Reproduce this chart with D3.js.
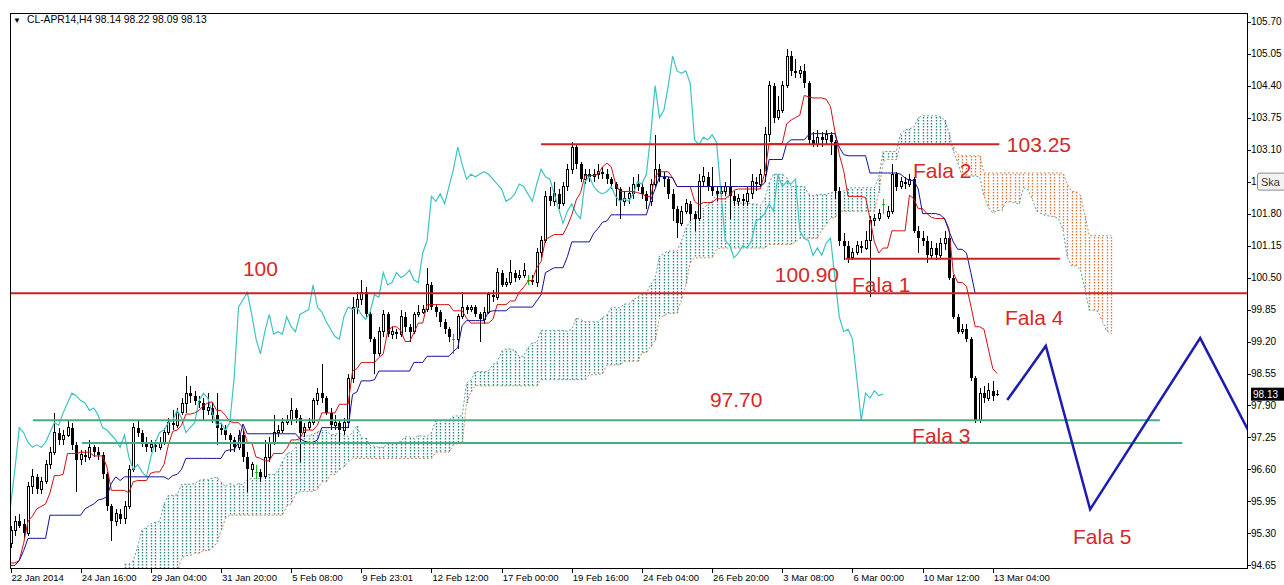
<!DOCTYPE html>
<meta charset="utf-8">
<style>
    body { margin: 0; background: #fff; }
    svg { display: block; }
    .axis text { font: 10px 'Liberation Sans', Arial, sans-serif; fill: #000; }
    .note { font: 21px 'Liberation Sans', Arial, sans-serif; fill: #d62828; }
</style>
<svg width="1284" height="585"></svg>
<script src="https://d3js.org/d3.v7.min.js"></script>
<script>

// H4 candles, bar 0 = 22 Jan 2014 00:00
var opens = [
    95.10, 95.35, 95.55, 95.50, 95.30, 96.25, 96.45, 96.20, 96.35, 96.70,
    96.95, 97.35, 97.20, 97.30, 97.45, 97.10, 96.80, 96.90, 96.85, 97.05,
    96.95, 96.90, 96.50, 95.85, 95.55, 95.70, 95.60, 95.85, 96.60, 97.45,
    97.35, 97.15, 97.05, 97.10, 97.05, 97.15, 97.35, 97.55, 97.50, 97.75,
    97.95, 98.15, 98.10, 98.00, 97.95, 97.80, 97.85, 97.70, 97.45, 97.40,
    97.30, 97.20, 97.05, 97.30, 96.85, 96.60, 96.55, 96.55, 96.45, 96.85,
    97.15, 97.35, 97.40, 97.55, 97.60, 97.80, 97.65, 97.35, 97.45, 97.55,
    98.00, 98.15, 98.05, 97.75, 97.50, 97.55, 97.40, 97.55, 98.45, 99.90,
    100.05, 100.20, 99.75, 99.25, 98.95, 99.40, 99.75, 99.35, 99.40, 99.35,
    99.70, 99.50, 99.40, 99.75, 99.80, 99.85, 100.35, 99.90, 99.80, 99.60,
    99.45, 99.25, 99.25, 99.70, 99.90, 99.85, 99.90, 99.75, 99.65, 99.80,
    100.15, 100.10, 100.60, 100.35, 100.40, 100.60, 100.50, 100.55, 100.45, 100.45,
    100.40, 101.00, 101.25, 102.15, 102.05, 102.20, 102.00, 102.35, 102.70, 103.15,
    102.80, 102.50, 102.60, 102.55, 102.60, 102.65, 102.60, 102.50, 102.40, 102.30,
    102.05, 102.10, 102.20, 102.40, 102.35, 102.20, 102.05, 102.40, 102.70, 102.55,
    102.50, 102.20, 101.90, 101.60, 101.85, 102.00, 101.80, 101.70, 102.45, 102.55,
    102.35, 102.25, 102.20, 102.25, 102.35, 102.15, 102.05, 102.10, 102.05, 102.20,
    102.45, 102.40, 102.60, 103.40, 104.40, 103.75, 103.90, 104.40, 105.00, 104.70,
    104.65, 104.70, 104.45, 103.30, 103.20, 103.35, 103.30, 103.40, 103.25, 102.25,
    101.25, 101.15, 100.90, 101.00, 101.15, 101.10, 101.25, 101.65, 101.70, 102.00,
    101.75, 101.85, 102.60, 102.35, 102.45, 102.40, 102.50, 101.45, 101.30, 101.25,
    100.95, 101.10, 100.95, 101.20, 101.30, 100.50, 99.70, 99.40, 99.45, 99.25,
    98.45, 97.60, 98.15, 98.05, 98.20, 98.14
];
var highs = [
    95.45, 95.65, 95.70, 95.60, 96.35, 96.60, 96.50, 96.45, 96.80, 97.05,
    97.75, 97.45, 97.40, 97.60, 97.55, 97.15, 97.00, 97.00, 97.20, 97.10,
    97.05, 96.95, 96.55, 95.90, 95.80, 95.80, 95.95, 96.70, 97.55, 97.60,
    97.40, 97.25, 97.20, 97.20, 97.25, 97.45, 97.65, 97.80, 97.85, 98.05,
    98.50, 98.30, 98.20, 98.10, 98.05, 98.15, 97.95, 98.15, 97.55, 97.50,
    97.35, 97.25, 97.40, 97.40, 96.95, 96.75, 96.70, 96.60, 97.20, 97.25,
    97.70, 97.50, 97.65, 97.70, 98.05, 97.85, 97.70, 97.55, 97.65, 98.05,
    98.25, 98.75, 98.10, 97.85, 97.70, 97.60, 97.65, 98.55, 100.10, 100.20,
    100.45, 100.30, 99.80, 99.30, 99.50, 99.85, 99.80, 99.50, 99.45, 99.85,
    99.80, 99.55, 99.80, 99.95, 99.95, 100.70, 100.40, 99.95, 99.85, 99.65,
    99.50, 99.35, 99.75, 100.20, 99.95, 99.95, 99.95, 99.80, 99.90, 100.20,
    100.25, 100.70, 100.65, 100.50, 100.85, 100.65, 100.65, 100.80, 100.55, 100.55,
    101.10, 101.35, 102.25, 102.35, 102.45, 102.30, 102.45, 102.80, 103.25, 103.20,
    102.85, 102.70, 102.70, 102.70, 102.80, 102.75, 102.70, 102.55, 102.45, 102.35,
    102.25, 102.35, 102.55, 102.60, 102.45, 102.25, 102.50, 103.40, 102.80, 102.65,
    102.55, 102.30, 101.95, 101.95, 102.10, 102.05, 101.85, 102.60, 102.75, 102.65,
    102.75, 102.35, 102.35, 102.45, 102.90, 102.25, 102.20, 102.20, 102.35, 102.60,
    102.55, 102.70, 103.55, 104.50, 104.45, 104.20, 104.50, 105.15, 105.10, 104.95,
    104.80, 104.85, 104.50, 103.45, 103.50, 103.45, 103.50, 103.45, 103.30, 102.35,
    101.40, 101.25, 101.10, 101.25, 101.25, 101.45, 101.75, 101.80, 101.90, 102.10,
    101.95, 102.80, 102.65, 102.55, 102.55, 102.60, 102.55, 101.55, 101.45, 101.35,
    101.25, 101.20, 101.30, 101.45, 101.35, 100.55, 99.75, 99.55, 99.55, 99.30,
    98.50, 98.25, 98.30, 98.35, 98.40, 98.22
];
var lows = [
    95.00, 95.25, 95.40, 95.20, 95.25, 96.10, 96.10, 96.10, 96.30, 96.60,
    96.90, 97.10, 97.10, 97.25, 97.00, 96.15, 96.70, 96.75, 96.80, 96.85,
    96.80, 96.40, 95.75, 95.15, 95.45, 95.50, 95.50, 95.80, 96.55, 97.25,
    97.05, 96.95, 96.95, 96.95, 97.00, 97.10, 97.30, 97.40, 97.45, 97.70,
    97.75, 97.95, 97.90, 97.85, 97.60, 97.70, 97.55, 97.10, 97.30, 97.20,
    96.95, 96.95, 97.00, 96.75, 96.15, 96.45, 96.40, 96.35, 96.40, 96.75,
    97.10, 97.25, 97.35, 97.50, 97.50, 97.55, 96.75, 97.25, 97.40, 97.50,
    97.90, 97.95, 97.70, 97.40, 97.40, 97.10, 97.30, 97.45, 98.35, 99.75,
    99.95, 99.70, 99.20, 98.55, 98.90, 99.30, 99.30, 99.25, 99.25, 99.30,
    99.40, 99.20, 99.35, 99.70, 99.75, 99.80, 99.85, 99.70, 99.50, 99.35,
    99.20, 98.95, 99.05, 99.65, 99.75, 99.80, 99.70, 99.20, 99.55, 99.75,
    100.00, 100.05, 100.30, 100.30, 100.35, 100.40, 100.45, 100.50, 100.35, 100.35,
    100.30, 100.90, 101.20, 101.95, 101.95, 101.90, 101.95, 102.25, 102.60, 102.70,
    102.45, 102.40, 102.45, 102.45, 102.50, 102.50, 102.40, 102.30, 101.95, 101.70,
    101.95, 102.00, 102.10, 102.25, 102.10, 101.90, 101.95, 102.35, 102.45, 102.35,
    102.10, 101.65, 101.30, 101.55, 101.80, 101.65, 101.45, 101.65, 102.35, 102.25,
    102.15, 102.05, 102.10, 102.15, 101.70, 101.95, 101.95, 101.95, 101.95, 102.10,
    102.25, 102.35, 102.45, 103.25, 103.65, 103.70, 103.85, 104.35, 104.60, 104.55,
    104.55, 104.35, 103.20, 103.15, 103.15, 103.15, 103.20, 103.00, 102.10, 101.15,
    100.85, 100.80, 100.85, 100.95, 101.00, 101.05, 100.10, 101.55, 101.65, 101.80,
    101.70, 101.80, 102.25, 102.30, 102.30, 102.35, 101.40, 101.00, 101.15, 100.80,
    100.90, 100.85, 100.90, 101.05, 100.45, 99.65, 99.35, 99.35, 99.20, 98.40,
    97.55, 97.55, 97.95, 98.00, 98.00, 98.09
];
var closes = [
    95.35, 95.55, 95.45, 95.30, 96.25, 96.45, 96.20, 96.35, 96.70, 96.95,
    97.35, 97.20, 97.30, 97.45, 97.10, 96.80, 96.90, 96.85, 97.05, 96.95,
    96.90, 96.50, 95.85, 95.55, 95.70, 95.60, 95.85, 96.60, 97.45, 97.35,
    97.15, 97.05, 97.10, 97.05, 97.15, 97.35, 97.55, 97.50, 97.75, 97.95,
    98.15, 98.10, 98.00, 97.95, 97.80, 97.85, 97.70, 97.45, 97.40, 97.30,
    97.20, 97.05, 97.30, 96.85, 96.60, 96.70, 96.55, 96.45, 96.85, 97.15,
    97.35, 97.40, 97.55, 97.60, 97.80, 97.65, 97.35, 97.45, 97.55, 98.00,
    98.15, 98.05, 97.75, 97.50, 97.55, 97.40, 97.55, 98.45, 99.90, 100.05,
    100.20, 99.75, 99.25, 98.95, 99.40, 99.75, 99.35, 99.40, 99.35, 99.70,
    99.50, 99.40, 99.75, 99.80, 99.85, 100.35, 99.90, 99.80, 99.60, 99.45,
    99.30, 99.25, 99.70, 99.90, 99.85, 99.90, 99.75, 99.65, 99.80, 100.15,
    100.10, 100.60, 100.35, 100.40, 100.60, 100.50, 100.55, 100.65, 100.45, 100.40,
    101.00, 101.25, 102.15, 102.05, 102.20, 102.00, 102.35, 102.70, 103.15, 102.80,
    102.50, 102.60, 102.55, 102.60, 102.65, 102.60, 102.50, 102.40, 102.30, 102.05,
    102.10, 102.20, 102.40, 102.35, 102.20, 102.05, 102.40, 102.70, 102.55, 102.50,
    102.20, 101.90, 101.60, 101.85, 102.00, 101.80, 101.70, 102.45, 102.55, 102.35,
    102.25, 102.20, 102.25, 102.35, 102.15, 102.05, 102.10, 102.05, 102.20, 102.45,
    102.40, 102.60, 103.40, 104.40, 103.75, 103.90, 104.40, 105.00, 104.70, 104.65,
    104.70, 104.45, 103.30, 103.20, 103.35, 103.30, 103.40, 103.25, 102.25, 101.25,
    101.15, 100.90, 101.00, 101.15, 101.10, 101.25, 101.65, 101.70, 101.80, 102.00,
    101.85, 102.60, 102.35, 102.45, 102.40, 102.50, 101.45, 101.30, 101.25, 100.95,
    101.10, 100.95, 101.20, 101.30, 100.50, 99.70, 99.40, 99.45, 99.25, 98.45,
    97.60, 98.15, 98.05, 98.20, 98.10, 98.13
];

var tenkanEarly = [94.70, 94.70, 94.75, 95.10, 95.55, 95.65, 95.80, 95.85];
var kijunEarly = [
    94.65, 94.65, 94.75, 94.95, 95.20, 95.20, 95.20, 95.20, 95.20, 95.67,
    95.67, 95.67, 95.67, 95.67, 95.67, 95.67, 95.67, 95.80, 95.85, 95.90,
    95.98, 96.00, 96.05, 96.32, 96.45
];
// Senkou B for bars 26..76
var spanBEarly = [
    94.30, 94.30, 94.35, 94.40, 94.45,
    94.50, 94.50, 94.50, 94.50, 94.50, 94.50, 94.50, 94.50,
    94.80, 94.85, 94.85, 94.90, 94.90, 94.95, 94.95, 95.00,
    95.10, 95.35, 95.60,
    95.67, 95.67, 95.67, 95.67, 95.67, 95.67, 95.67, 95.67, 95.67, 95.67, 95.67, 95.67, 95.67,
    95.85, 95.90, 96.10, 96.15, 96.15, 96.15, 96.15, 96.20,
    96.35, 96.35, 96.50, 96.50, 96.60, 96.65
];

var priceTicks = ["94.65", "95.30", "95.95", "96.60", "97.25", "97.90", "98.55", "99.20", "99.85",
    "100.50", "101.15", "101.80", "102.45", "103.10", "103.75", "104.40", "105.05", "105.70"];
var timeTickBars = [0, 16, 32, 48, 64, 80, 96, 112, 128, 144, 160, 176, 192, 208, 224];
var timeLabels = ["22 Jan 2014", "24 Jan 16:00", "29 Jan 04:00", "31 Jan 20:00", "5 Feb 08:00",
    "9 Feb 23:01", "12 Feb 12:00", "17 Feb 00:00", "19 Feb 16:00", "24 Feb 04:00",
    "26 Feb 20:00", "3 Mar 08:00", "6 Mar 00:00", "10 Mar 12:00", "13 Mar 04:00"];
// tick label partly hidden by a tooltip in the screenshot
var hiddenTick = "102.45", tooltipText = "Ska";

// drawn objects: [from bar, to bar, price]
var redLevels = [[0, 282, 100.18], [121, 225.5, 103.21], [190.4, 239.3, 100.88]];
var greenLevels = [[5.1, 262.1, 97.60], [16.3, 267.2, 97.14]];
var wave = [[227.3, 98.01], [236.1, 99.11], [246.2, 95.79], [271.3, 99.27], [290, 96.07]];
var notes = [
    [53.0, 100.53, "100"], [227.2, 103.05, "103.25"], [174.3, 100.41, "100.90"],
    [191.9, 100.21, "Fala 1"], [205.8, 102.52, "Fala 2"], [226.8, 99.54, "Fala 4"],
    [159.5, 97.87, "97.70"], [205.6, 97.14, "Fala 3"], [242.3, 95.08, "Fala 5"]
];

var svg = d3.select("svg"),
    frame = {left: 10, top: 13, right: 1247, bottom: 568};

var x = d3.scaleLinear().domain([0, 282]).range([10.5, 1247.1]);
var y = d3.scaleLinear().domain([94.65, 105.70]).range([565.4, 21.7]);

svg.append("defs").append("clipPath").attr("id", "plot")
    .append("rect")
    .attr("x", frame.left).attr("y", frame.top)
    .attr("width", frame.right - frame.left).attr("height", frame.bottom - frame.top);

// ichimoku
function mid(from, to) {
    var hi = d3.max(highs.slice(from, to + 1)), lo = d3.min(lows.slice(from, to + 1));
    return (hi + lo) / 2;
}
var n = closes.length;
var tenkan = closes.map(function(c, i) { return i < tenkanEarly.length ? tenkanEarly[i] : mid(i - 8, i); });
var kijun = closes.map(function(c, i) { return i < kijunEarly.length ? kijunEarly[i] : mid(i - 25, i); });
var cloud = [];
for (var i = 26; i < n + 26; i++) {
    var a = (tenkan[i - 26] + kijun[i - 26]) / 2;
    var b = i - 26 >= 51 ? mid(i - 77, i - 26) : spanBEarly[i - 26];
    cloud.push({i: i, a: a, b: b});
}
var chikou = closes.slice(26).map(function(c, i) { return {i: i, v: c}; });

var g = svg.append("g").attr("clip-path", "url(#plot)");

var teal = "#2f8585", orange = "#e0783a";

g.append("g").selectAll("line")
    .data(cloud)
    .enter().append("line")
    .attr("x1", function(d) { return Math.round(x(d.i)) + 0.5; })
    .attr("x2", function(d) { return Math.round(x(d.i)) + 0.5; })
    .attr("y1", function(d) { return y(Math.max(d.a, d.b)); })
    .attr("y2", function(d) { return y(Math.min(d.a, d.b)); })
    .attr("stroke", function(d) { return d.a >= d.b ? teal : orange; })
    .attr("stroke-width", 1.4)
    .attr("stroke-dasharray", "1.4,1.6")
    .attr("stroke-dashoffset", function(d) { return y(Math.max(d.a, d.b)) % 3; });

var line = d3.line().x(function(d) { return x(d.i); }).y(function(d) { return y(d.v); });

g.append("path")
    .attr("d", line(cloud.map(function(d) { return {i: d.i, v: d.a}; })))
    .attr("fill", "none").attr("stroke", "#5d9d9d").attr("stroke-dasharray", "2,2");
g.append("path")
    .attr("d", line(cloud.map(function(d) { return {i: d.i, v: d.b}; })))
    .attr("fill", "none").attr("stroke", "#c98a5c").attr("stroke-dasharray", "2,2");

// candles
var bars = closes.map(function(c, i) { return {i: i, o: opens[i], h: highs[i], l: lows[i], c: c}; });
var cg = g.append("g").attr("shape-rendering", "crispEdges");
cg.selectAll(".wick")
    .data(bars)
    .enter().append("line")
    .attr("x1", function(d) { return Math.round(x(d.i)) + 0.5; })
    .attr("x2", function(d) { return Math.round(x(d.i)) + 0.5; })
    .attr("y1", function(d) { return y(d.h); })
    .attr("y2", function(d) { return y(d.l); })
    .attr("stroke", function(d) { return d.o === d.c ? "#10c010" : "#000"; });

cg.selectAll(".body")
    .data(bars.filter(function(d) { return d.o !== d.c; }))
    .enter().append("rect")
    .attr("x", function(d) { return Math.round(x(d.i)) - 1 + (d.c > d.o ? 0.5 : 0); })
    .attr("y", function(d) { return y(Math.max(d.o, d.c)); })
    .attr("width", function(d) { return d.c > d.o ? 2 : 3; })
    .attr("height", function(d) { return Math.max(1, y(Math.min(d.o, d.c)) - y(Math.max(d.o, d.c))); })
    .attr("fill", function(d) { return d.c > d.o ? "#fff" : "#000"; })
    .attr("stroke", function(d) { return d.c > d.o ? "#000" : "none"; });

cg.selectAll(".doji")
    .data(bars.filter(function(d) { return d.o === d.c; }))
    .enter().append("line")
    .attr("x1", function(d) { return Math.round(x(d.i)) - 1; })
    .attr("x2", function(d) { return Math.round(x(d.i)) + 2; })
    .attr("y1", function(d) { return Math.round(y(d.c)) + 0.5; })
    .attr("y2", function(d) { return Math.round(y(d.c)) + 0.5; })
    .attr("stroke", "#10c010");

// indicator lines
g.append("path").attr("d", line(chikou))
    .attr("fill", "none").attr("stroke", "#3cc4c4").attr("stroke-width", 1.2);
g.append("path").attr("d", line(tenkan.map(function(v, i) { return {i: i, v: v}; })))
    .attr("fill", "none").attr("stroke", "#d01010").attr("stroke-width", 1);
g.append("path").attr("d", line(kijun.map(function(v, i) { return {i: i, v: v}; })))
    .attr("fill", "none").attr("stroke", "#1010a0").attr("stroke-width", 1);

// drawn levels
g.selectAll(".lvl-red")
    .data(redLevels)
    .enter().append("line")
    .attr("x1", function(d) { return x(d[0]); })
    .attr("x2", function(d) { return x(d[1]); })
    .attr("y1", function(d) { return y(d[2]); })
    .attr("y2", function(d) { return y(d[2]); })
    .attr("stroke", "#cc2222").attr("stroke-width", 2);
g.selectAll(".lvl-green")
    .data(greenLevels)
    .enter().append("line")
    .attr("x1", function(d) { return x(d[0]); })
    .attr("x2", function(d) { return x(d[1]); })
    .attr("y1", function(d) { return y(d[2]); })
    .attr("y2", function(d) { return y(d[2]); })
    .attr("stroke", "#4aab80").attr("stroke-width", 2);

g.append("path")
    .attr("d", d3.line().x(function(d) { return x(d[0]); }).y(function(d) { return y(d[1]); })(wave))
    .attr("fill", "none").attr("stroke", "#1c1cb0").attr("stroke-width", 2.5);

g.selectAll(".note")
    .data(notes)
    .enter().append("text")
    .attr("class", "note")
    .attr("x", function(d) { return x(d[0]); })
    .attr("y", function(d) { return y(d[1]); })
    .text(function(d) { return d[2]; });

// frame
svg.append("rect")
    .attr("x", frame.left + 0.5).attr("y", frame.top + 0.5)
    .attr("width", frame.right - frame.left).attr("height", frame.bottom - frame.top)
    .attr("fill", "none").attr("stroke", "#000").attr("shape-rendering", "crispEdges");

// price axis
var pa = svg.append("g").attr("class", "axis");
pa.selectAll("line")
    .data(priceTicks)
    .enter().append("line")
    .attr("x1", frame.right).attr("x2", frame.right + 4)
    .attr("y1", function(d) { return Math.round(y(+d)) + 0.5; })
    .attr("y2", function(d) { return Math.round(y(+d)) + 0.5; })
    .attr("stroke", "#000");
pa.selectAll("text")
    .data(priceTicks)
    .enter().append("text")
    .attr("x", frame.right + 4)
    .attr("y", function(d) { return y(+d); })
    .attr("dy", "0.35em")
    // only the first digit of this label shows beside the tooltip
    .text(function(d) { return d === hiddenTick ? d.charAt(0) : d; });

var last = closes[n - 1];
pa.append("rect")
    .attr("x", frame.right + 4).attr("y", y(last) - 6.5)
    .attr("width", 33).attr("height", 13).attr("fill", "#000");
pa.append("text")
    .attr("x", frame.right + 6).attr("y", y(last)).attr("dy", "0.35em")
    .style("fill", "#fff")
    .text(last.toFixed(2));

// tooltip remnant over the axis
pa.append("rect")
    .attr("x", 1257.5).attr("y", y(+hiddenTick) - 8.5).attr("width", 30).attr("height", 17).attr("rx", 2)
    .attr("fill", "#f3f3f3").attr("stroke", "#8a8a8a");
pa.append("text").attr("x", 1261).attr("y", y(+hiddenTick) + 4)
    .style("font-size", "11px").style("fill", "#333").text(tooltipText);

// time axis
var ta = svg.append("g").attr("class", "axis");
ta.selectAll("line")
    .data(timeTickBars)
    .enter().append("line")
    .attr("x1", function(d) { return Math.round(x(d)) + 0.5; })
    .attr("x2", function(d) { return Math.round(x(d)) + 0.5; })
    .attr("y1", frame.bottom).attr("y2", frame.bottom + 5)
    .attr("stroke", "#000");
ta.selectAll("text")
    .data(timeTickBars)
    .enter().append("text")
    .attr("x", function(d) { return x(d) + 1; })
    .attr("y", 581)
    .style("font-size", "9.5px")
    .text(function(d, i) { return timeLabels[i]; });

// header
svg.append("text")
    .attr("x", 13).attr("y", 23)
    .style("font", "8px 'Liberation Sans', Arial, sans-serif")
    .text("\u25BC");
svg.append("text")
    .attr("x", 27).attr("y", 23)
    .style("font", "10.3px 'Liberation Sans', Arial, sans-serif")
    .text("CL-APR14,H4  98.14 98.22 98.09 98.13");

</script>
